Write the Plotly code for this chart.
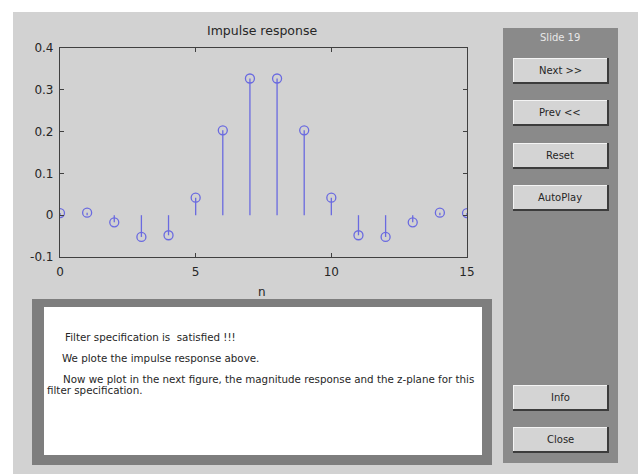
import plotly.graph_objects as go

# ---- data ----
n = list(range(16))
h = [0.005, 0.006, -0.017, -0.052, -0.048, 0.042, 0.203, 0.327,
     0.327, 0.203, 0.042, -0.048, -0.052, -0.017, 0.006, 0.005]
x_ticks = [0, 5, 10, 15]
y_ticks = [-0.1, 0, 0.1, 0.2, 0.3, 0.4]
y_tick_labels = ["-0.1", "0", "0.1", "0.2", "0.3", "0.4"]
buttons = ["Next >>", "Prev <<", "Reset", "AutoPlay", "Info", "Close"]
button_tops = [58, 100, 143, 185, 385, 427]
info_lines = [
    "Filter specification is  satisfied !!!",
    "We plote the impulse response above.",
    "Now we plot in the next figure, the magnitude response and the z-plane for this",
    "filter specification.",
]

W, H = 638, 474
L, R, T, B = 60, 467, 48, 257
PW, PH = R - L, B - T

def px(x):
    return (x - L) / PW

def py(y):
    return (B - y) / PH

STEM = "#6a6ae0"
FONT = "DejaVu Sans, Verdana, sans-serif"
TXT = "#262626"

# stems built from data
sx, sy = [], []
for xi, yi in zip(n, h):
    sx += [xi, xi, None]
    sy += [0, yi, None]

fig = go.Figure()
fig.add_trace(go.Scatter(x=sx, y=sy, mode="lines",
                         line=dict(color=STEM, width=1.3),
                         hoverinfo="skip", showlegend=False))
fig.add_trace(go.Scatter(x=n, y=h, mode="markers",
                         marker=dict(symbol="circle-open", size=9,
                                     color=STEM, line=dict(width=1.3)),
                         showlegend=False))

shapes = []
def rect(x0, y0, x1, y1, fill, layer="above", line=None):
    d = dict(type="rect", xref="paper", yref="paper",
             x0=px(x0), x1=px(x1), y0=py(y0), y1=py(y1),
             fillcolor=fill, layer=layer)
    d["line"] = line if line else dict(width=0)
    shapes.append(d)

# window background
rect(13, 12, 638, 474, "#d2d2d2", layer="below")
# info text box
rect(32, 299, 492, 465, "#7e7e7e")
rect(44, 307, 482, 455, "#ffffff")
# right panel
rect(503, 28, 618, 463, "#8a8a8a")

annotations = []
for lab, top in zip(buttons, button_tops):
    bh = 26
    rect(513, top, 609, top + bh, "#3c3c3c")
    rect(513, top, 607, top + bh - 2, "#f4f4f4")
    rect(514, top + 1, 607, top + bh - 2, "#d4d4d4")
    annotations.append(dict(x=px(560), y=py(top + bh / 2 - 1), xref="paper", yref="paper",
                            text=lab, showarrow=False, xanchor="center", yanchor="middle",
                            font=dict(family=FONT, size=10, color=TXT)))

annotations.append(dict(x=px(560), y=py(38), xref="paper", yref="paper",
                        text="Slide 19", showarrow=False, xanchor="center", yanchor="middle",
                        font=dict(family=FONT, size=10, color="#e8e8e8")))
annotations.append(dict(x=px(262), y=py(31), xref="paper", yref="paper",
                        text="Impulse response", showarrow=False, xanchor="center",
                        yanchor="middle", font=dict(family=FONT, size=12.5, color=TXT)))
annotations.append(dict(x=px(262), y=py(292), xref="paper", yref="paper",
                        text="n", showarrow=False, xanchor="center",
                        yanchor="middle", font=dict(family=FONT, size=12, color=TXT)))

info_pos = [(63, 337), (60, 358), (61, 379), (45, 390)]
for txt, (x0, y0) in zip(info_lines, info_pos):
    annotations.append(dict(x=px(x0), y=py(y0), xref="paper", yref="paper",
                            text=txt, showarrow=False, xanchor="left", yanchor="middle",
                            font=dict(family=FONT, size=10.3, color=TXT)))

axis_common = dict(showgrid=False, zeroline=False, showline=True, mirror="ticks",
                   linecolor="#404040", linewidth=1.2, ticks="inside", ticklen=4,
                   tickcolor="#404040",
                   tickfont=dict(family=FONT, size=12, color=TXT))

fig.update_layout(
    width=W, height=H,
    margin=dict(l=L, r=W - R, t=T, b=H - B, pad=0),
    paper_bgcolor="#ffffff", plot_bgcolor="#ffffff",
    shapes=shapes, annotations=annotations,
    xaxis=dict(range=[0, 15], tickvals=x_ticks, ticktext=[str(v) for v in x_ticks],
               ticklabelstandoff=3, **axis_common),
    yaxis=dict(range=[-0.1, 0.4], tickvals=y_ticks, ticktext=y_tick_labels,
               ticklabelstandoff=3, **axis_common),
    showlegend=False,
)

fig.write_html("out.html", config={"displayModeBar": False},
               post_script="document.body.style.margin='0';document.body.style.overflow='hidden';")
